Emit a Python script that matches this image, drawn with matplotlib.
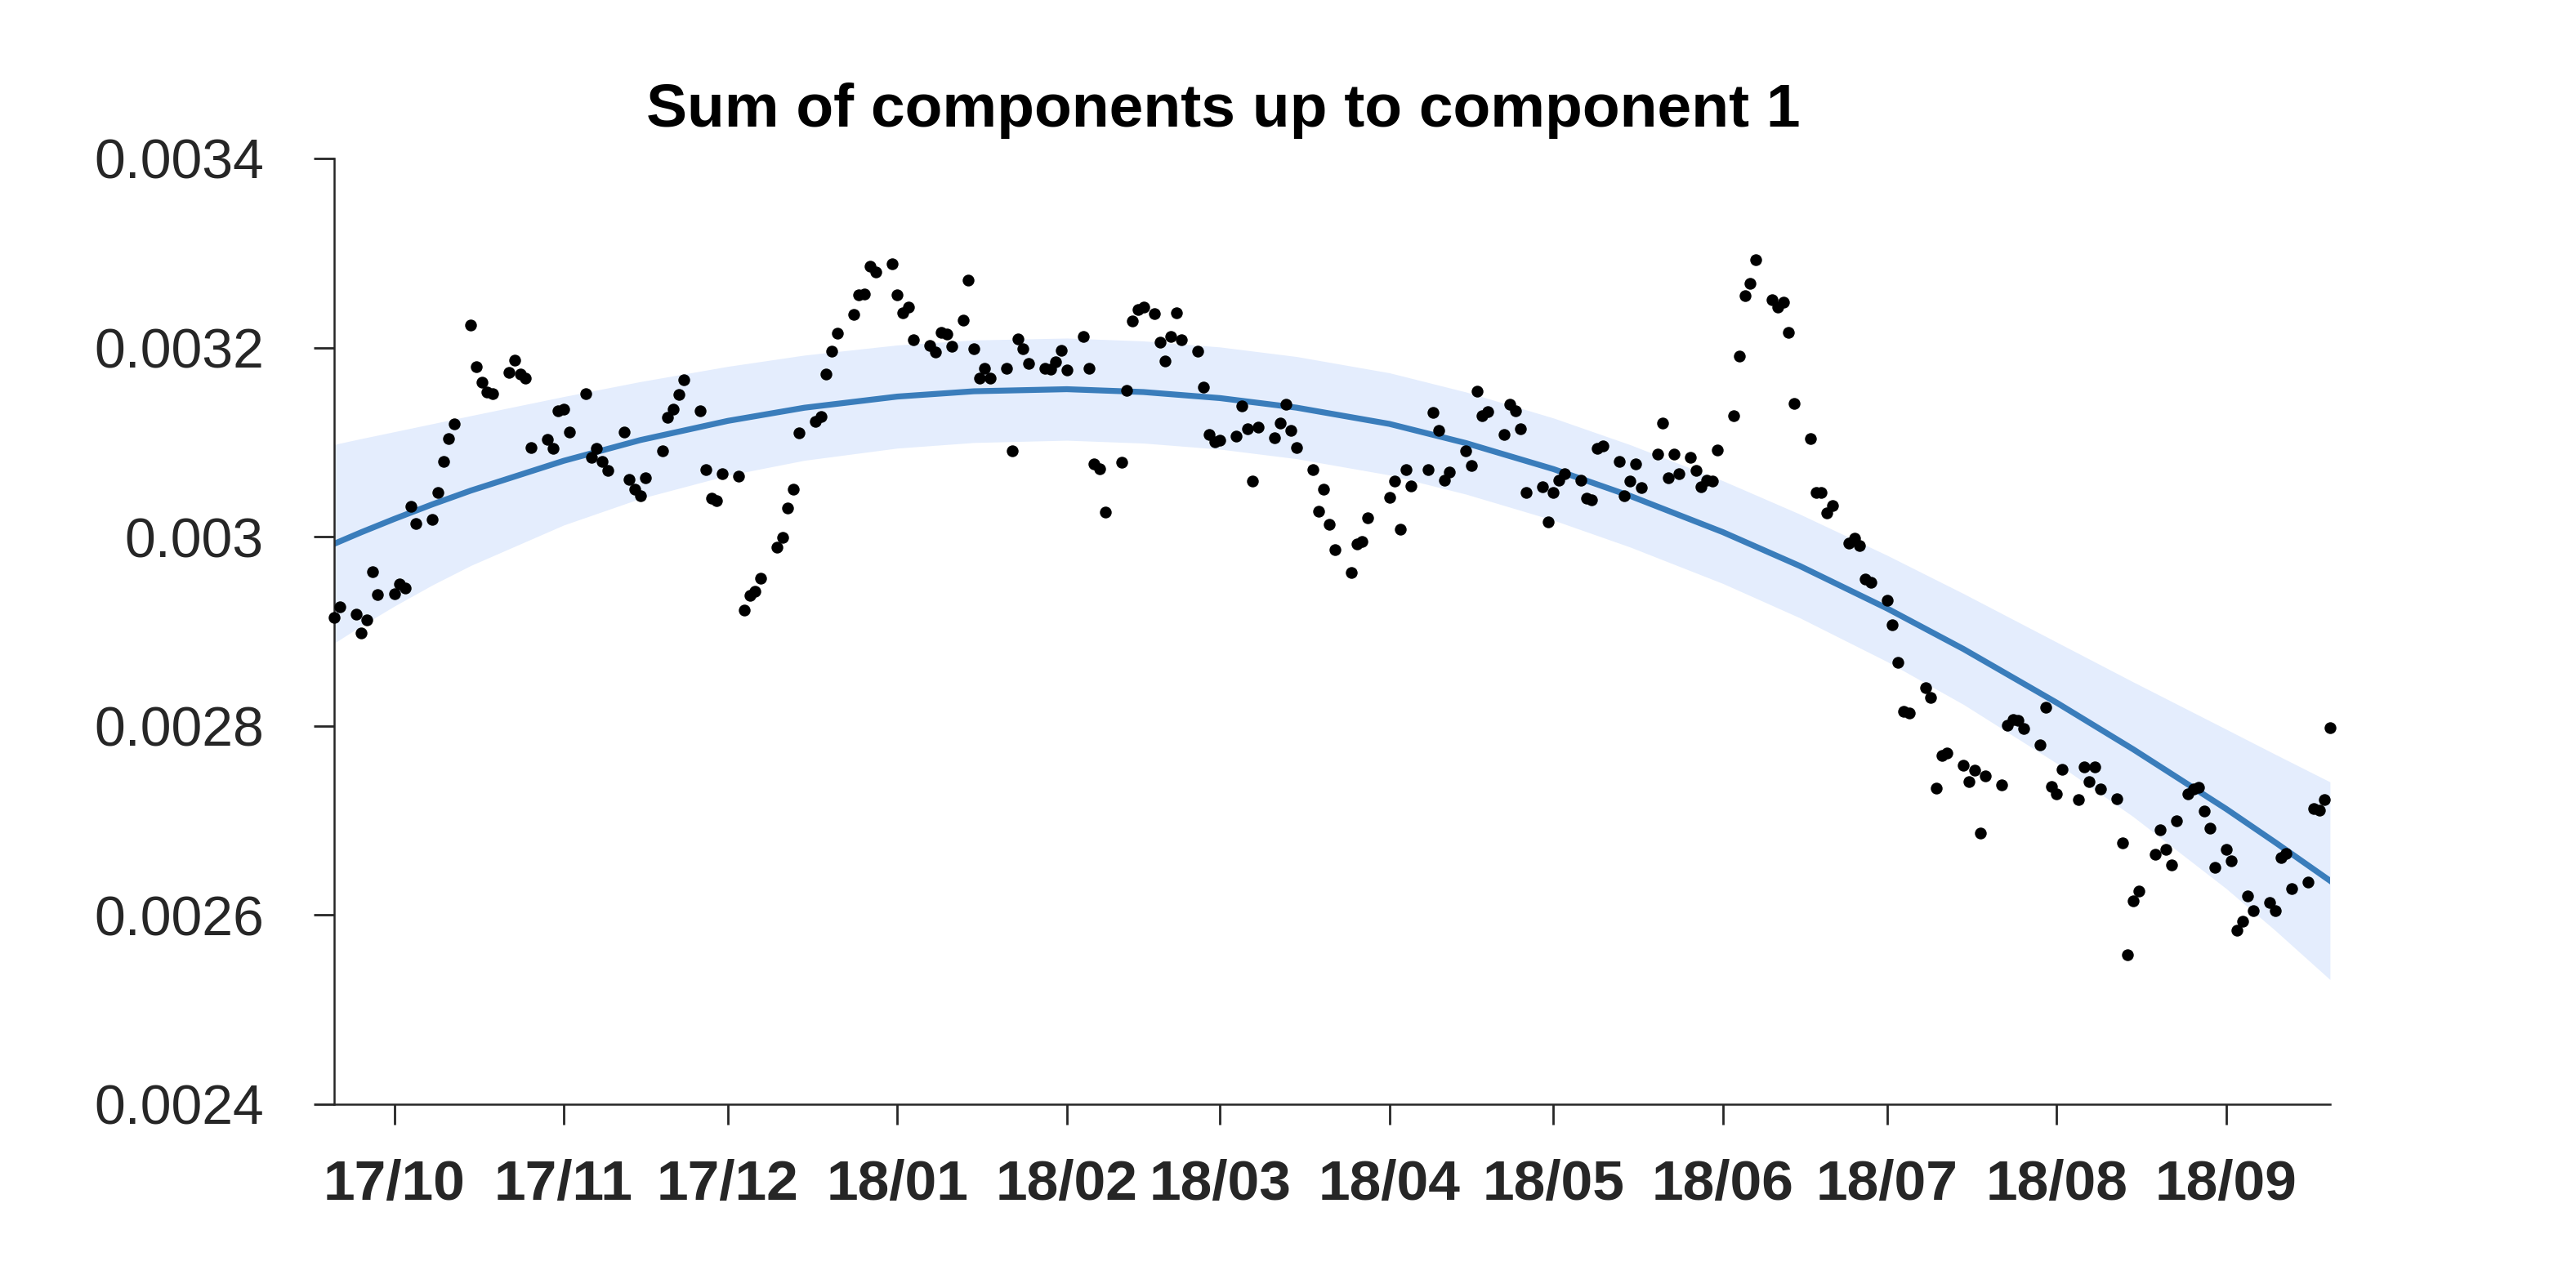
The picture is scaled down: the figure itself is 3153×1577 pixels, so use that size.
import numpy as np
import pandas as pd
import matplotlib
matplotlib.use('Agg')
import matplotlib.pyplot as plt
import matplotlib.dates as mdates
from matplotlib.ticker import FuncFormatter, MultipleLocator

plt.rcParams['font.family'] = ['Liberation Sans', 'DejaVu Sans']

# daily stamps run Sun-Thu, with one missing day and a few Saturday stamps
first_day = '2017-09-20'
last_day = '2018-09-20'
missing_days = ['2018-03-29']
saturday_days = ['2018-01-13', '2018-02-17', '2018-05-26', '2018-08-25', '2018-09-01']

# observed values, one row per week
values = [
    0.002915, 0.002926,
    0.002918, 0.002898, 0.002912, 0.002963, 0.002939,
    0.002940, 0.002950, 0.002946, 0.003032, 0.003014,
    0.003018, 0.003047, 0.003080, 0.003104, 0.003119,
    0.003224, 0.003180, 0.003163, 0.003153, 0.003151,
    0.003174, 0.003187, 0.003172, 0.003168, 0.003094,
    0.003103, 0.003093, 0.003133, 0.003135, 0.003111,
    0.003151, 0.003084, 0.003093, 0.003080, 0.003070,
    0.003111, 0.003061, 0.003050, 0.003043, 0.003062,
    0.003091, 0.003126, 0.003135, 0.003150, 0.003166,
    0.003133, 0.003071, 0.003041, 0.003038, 0.003067,
    0.003064, 0.002922, 0.002938, 0.002942, 0.002956,
    0.002989, 0.002999, 0.003030, 0.003050, 0.003110,
    0.003122, 0.003127, 0.003172, 0.003196, 0.003215,
    0.003235, 0.003256, 0.003257, 0.003286, 0.003280,
    0.003289, 0.003256, 0.003237, 0.003243, 0.003208,
    0.003202, 0.003195, 0.003216, 0.003214, 0.003201, 0.003229,
    0.003271, 0.003199, 0.003168, 0.003178, 0.003168,
    0.003178, 0.003091, 0.003209, 0.003199, 0.003183,
    0.003178, 0.003177, 0.003185, 0.003197, 0.003176,
    0.003212, 0.003178, 0.003077, 0.003072, 0.003026,
    0.003079, 0.003155, 0.003228, 0.003240, 0.003243, 0.003236,
    0.003206, 0.003186, 0.003212, 0.003237, 0.003208,
    0.003196, 0.003158, 0.003108, 0.003100, 0.003102,
    0.003106, 0.003138, 0.003114, 0.003059, 0.003116,
    0.003105, 0.003120, 0.003140, 0.003112, 0.003094,
    0.003071, 0.003027, 0.003050, 0.003013, 0.002986,
    0.002962, 0.002992, 0.002995, 0.003020,
    0.003042, 0.003059, 0.003008, 0.003071, 0.003054,
    0.003071, 0.003131, 0.003112, 0.003060, 0.003068,
    0.003091, 0.003075, 0.003154, 0.003128, 0.003132,
    0.003108, 0.003140, 0.003133, 0.003114, 0.003047,
    0.003053, 0.003016, 0.003047, 0.003060, 0.003067,
    0.003060, 0.003041, 0.003039, 0.003093, 0.003096,
    0.003080, 0.003043, 0.003059, 0.003077, 0.003052,
    0.003087, 0.003120, 0.003062, 0.003087, 0.003067, 0.003084,
    0.003070, 0.003053, 0.003060, 0.003059, 0.003092,
    0.003128, 0.003191, 0.003255, 0.003268, 0.003293,
    0.003251, 0.003243, 0.003248, 0.003216, 0.003141,
    0.003104, 0.003047, 0.003047, 0.003025, 0.003033,
    0.002993, 0.002998, 0.002991, 0.002955, 0.002952,
    0.002933, 0.002907, 0.002867, 0.002815, 0.002814,
    0.002840, 0.002830, 0.002734, 0.002769, 0.002771,
    0.002758, 0.002741, 0.002753, 0.002687, 0.002747,
    0.002738, 0.002801, 0.002807, 0.002806, 0.002797,
    0.002780, 0.002820, 0.002736, 0.002728, 0.002754,
    0.002722, 0.002757, 0.002741, 0.002757, 0.002733,
    0.002723, 0.002676, 0.002558, 0.002615, 0.002625,
    0.002664, 0.002690, 0.002669, 0.002653, 0.002700, 0.002728,
    0.002733, 0.002735, 0.002710, 0.002692, 0.002650, 0.002669,
    0.002657, 0.002584, 0.002593, 0.002620, 0.002605,
    0.002613, 0.002605, 0.002661, 0.002665, 0.002628,
    0.002635, 0.002713, 0.002711, 0.002722, 0.002798,
]

# trend component: mean and half width of the band, read every half month
trend_dates = ['2017-09-20', '2017-09-25', '2017-10-01', '2017-10-08', '2017-10-15',
               '2017-11-01', '2017-11-15', '2017-12-01', '2017-12-15', '2018-01-01',
               '2018-01-15', '2018-02-01', '2018-02-15', '2018-03-01', '2018-03-15',
               '2018-04-01', '2018-04-15', '2018-05-01', '2018-05-15', '2018-06-01',
               '2018-06-15', '2018-07-01', '2018-07-15', '2018-08-01', '2018-08-15',
               '2018-09-01', '2018-09-10', '2018-09-20']
trend_mean = [0.0029925, 0.0030048, 0.0030188, 0.0030343, 0.0030488,
              0.0030803, 0.0031022, 0.0031225, 0.0031364, 0.0031482,
              0.0031538, 0.0031560, 0.0031530, 0.0031466, 0.0031365,
              0.0031193, 0.0030990, 0.0030715, 0.0030432, 0.0030048,
              0.0029692, 0.0029242, 0.0028812, 0.0028246, 0.0027753,
              0.0027123, 0.0026768, 0.0026363]
trend_half = [0.0001050, 0.0000990, 0.0000922, 0.0000852, 0.0000792,
              0.0000679, 0.0000618, 0.0000576, 0.0000556, 0.0000545,
              0.0000542, 0.0000540, 0.0000540, 0.0000540, 0.0000540,
              0.0000540, 0.0000540, 0.0000540, 0.0000541, 0.0000543,
              0.0000548, 0.0000562, 0.0000586, 0.0000640, 0.0000712,
              0.0000842, 0.0000931, 0.0001045]

dates = pd.bdate_range(first_day, last_day, freq='C',
                       weekmask='Sun Mon Tue Wed Thu', holidays=missing_days)
dates = dates.union(pd.to_datetime(saturday_days))
assert len(dates) == len(values)

tdates = pd.to_datetime(trend_dates)
tmean = np.array(trend_mean)
thalf = np.array(trend_half)

fig = plt.figure(figsize=(15.765, 7.885), dpi=200)
ax = fig.add_axes([0.1297, 0.1427, 0.7748, 0.7343])

ax.fill_between(tdates, tmean - thalf, tmean + thalf, color='#e4edfd', lw=0, zorder=1)
ax.plot(tdates, tmean, color='#3a7dbb', lw=2.6, zorder=2)
ax.scatter(dates, values, s=27, color='black', lw=0, zorder=3, clip_on=False)

ax.set_xlim(dates[0], dates[-1])
ax.set_ylim(0.0024, 0.0034)
ax.yaxis.set_major_locator(MultipleLocator(0.0002))
ax.yaxis.set_major_formatter(FuncFormatter(lambda v, p: '{:g}'.format(round(v, 6))))
ax.xaxis.set_major_locator(mdates.MonthLocator())
ax.xaxis.set_major_formatter(mdates.DateFormatter('%y/%m'))

for s in ['top', 'right']:
    ax.spines[s].set_visible(False)
for s in ['left', 'bottom']:
    ax.spines[s].set_color('#262626')
    ax.spines[s].set_linewidth(0.9)

ax.tick_params(direction='out', length=9, width=1.0, color='#262626', labelcolor='#262626')
ax.tick_params(axis='y', labelsize=24.5, pad=22)
ax.tick_params(axis='x', labelsize=25, pad=15)
for lab in ax.get_xticklabels():
    lab.set_fontweight('bold')

fig.text(0.475, 0.902, 'Sum of components up to component 1', ha='center',
         va='baseline', fontsize=27, fontweight='bold')

fig.savefig('out.png', dpi=200)
